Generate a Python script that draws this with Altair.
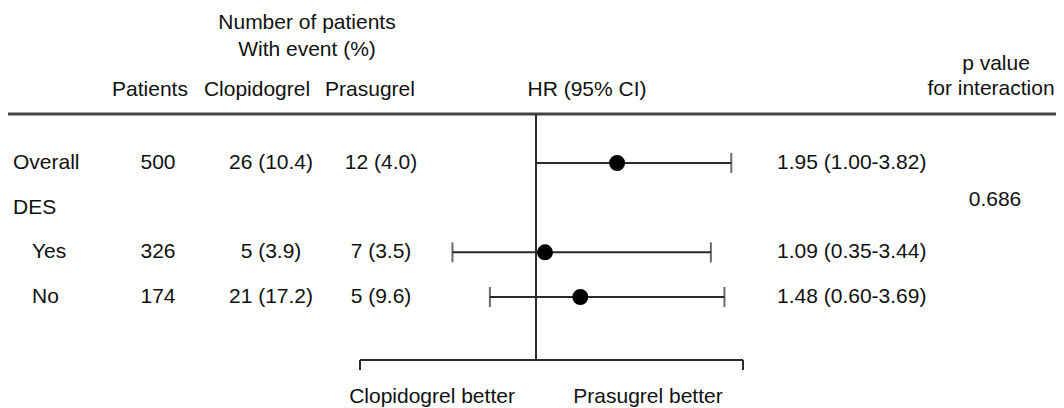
import altair as alt
import pandas as pd

# ---- data ----
rows = ["Overall", "DES", "Yes", "No"]
row_level = [0, 0, 1, 1]
patients = [500, None, 326, 174]
clop_events = [26, None, 5, 21]
clop_pct = [10.4, None, 3.9, 17.2]
pras_events = [12, None, 7, 5]
pras_pct = [4.0, None, 3.5, 9.6]
hr = [1.95, None, 1.09, 1.48]
hr_lo = [1.00, None, 0.35, 0.60]
hr_hi = [3.82, None, 3.44, 3.69]
p_interaction = "0.686"
null_value = 1.0


def ev(n, p):
    return "" if n is None else f"{n} ({p:.1f})"


tab = pd.DataFrame({
    "row": rows,
    "level": row_level,
    "patients": ["" if v is None else str(v) for v in patients],
    "clop": [ev(n, p) for n, p in zip(clop_events, clop_pct)],
    "pras": [ev(n, p) for n, p in zip(pras_events, pras_pct)],
    "hrtxt": ["" if h is None else f"{h:.2f} ({l:.2f}-{u:.2f})"
              for h, l, u in zip(hr, hr_lo, hr_hi)],
})
forest = pd.DataFrame({"row": rows, "hr": hr, "lo": hr_lo, "hi": hr_hi}).dropna()
ref = pd.DataFrame({"ref": [null_value]})
one = pd.DataFrame({"a": [0]})

FONT = "Liberation Sans"
FS = 21
TXT = "#111111"
LINE = "#2b2b2b"

yscale = alt.Scale(type="point", domain=rows, range=[155, 289], padding=0)
xscale = alt.Scale(type="sqrt", domain=[0, 4], range=[323.4, 732.6], zero=False, nice=False)
Y = alt.Y("row:N", scale=yscale, axis=None)


def label(txt, x, y, align="center"):
    return alt.Chart(one).mark_text(
        text=txt, align=align, baseline="middle", fontSize=FS, font=FONT, color=TXT
    ).encode(x=alt.value(x), y=alt.value(y))


def col(field, x, align="center", flt=None):
    c = alt.Chart(tab)
    if flt is not None:
        c = c.transform_filter(flt)
    return c.mark_text(
        align=align, baseline="middle", fontSize=FS, font=FONT, color=TXT
    ).encode(x=alt.value(x), y=Y, text=f"{field}:N")


def hrule(x1, x2, y, w=2, color=LINE):
    return alt.Chart(one).mark_rule(strokeWidth=w, color=color).encode(
        x=alt.value(x1), x2=alt.value(x2), y=alt.value(y))


def vrule(x, y1, y2, w=2, color=LINE):
    return alt.Chart(one).mark_rule(strokeWidth=w, color=color).encode(
        x=alt.value(x), y=alt.value(y1), y2=alt.value(y2))


headers = [
    label("Number of patients", 299, 15),
    label("With event (%)", 299, 42),
    label("Patients", 142, 82),
    label("Clopidogrel", 249, 82),
    label("Prasugrel", 362, 82),
    label("HR (95% CI)", 579, 82),
    label("p value", 988, 56),
    label("for interaction", 983, 81),
    label(p_interaction, 987, 192),
    label("Clopidogrel better", 424, 389),
    label("Prasugrel better", 640, 389),
]

columns = [
    col("row", 5, "left", alt.datum.level == 0),
    col("row", 24, "left", alt.datum.level == 1),
    col("patients", 150),
    col("clop", 263),
    col("pras", 373),
    col("hrtxt", 769, "left"),
]

lines = [
    hrule(0, 1048, 106, w=3, color="#444444"),
    hrule(352, 735, 352),
    vrule(352, 352, 362),
    vrule(735, 352, 362),
]

zero_line = alt.Chart(ref).mark_rule(strokeWidth=2, color=LINE).encode(
    x=alt.X("ref:Q", scale=xscale, axis=None), y=alt.value(106), y2=alt.value(352))

ci = alt.Chart(forest).mark_rule(strokeWidth=2, color=LINE).encode(
    x=alt.X("lo:Q", scale=xscale, axis=None), x2="hi:Q", y=Y)
cap_lo = alt.Chart(forest).mark_tick(size=20, thickness=2, color=LINE, orient="vertical").encode(
    x=alt.X("lo:Q", scale=xscale, axis=None), y=Y)
cap_hi = alt.Chart(forest).mark_tick(size=20, thickness=2, color=LINE, orient="vertical").encode(
    x=alt.X("hi:Q", scale=xscale, axis=None), y=Y)
dots = alt.Chart(forest).mark_circle(size=254, color="#000000", opacity=1).encode(
    x=alt.X("hr:Q", scale=xscale, axis=None), y=Y)

chart = alt.layer(
    *lines, zero_line, ci, cap_lo, cap_hi, dots, *columns, *headers
).properties(
    width=1048, height=400, padding=0,
    autosize=alt.AutoSizeParams(type="none"),
    background="white",
).configure_view(stroke=None)

chart.save("out.html", embed_options={"renderer": "svg", "actions": False})
